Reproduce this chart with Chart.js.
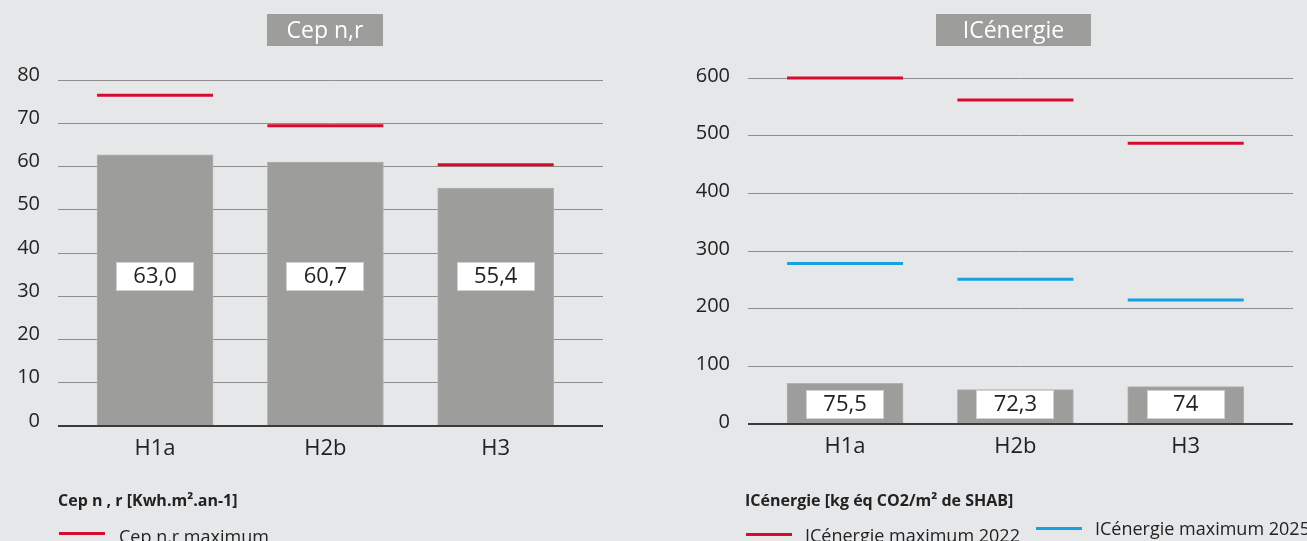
<!DOCTYPE html>
<html><head><meta charset="utf-8">
<script src="https://cdn.jsdelivr.net/npm/chart.js@4/dist/chart.umd.min.js"></script>
<style>
html,body{margin:0;padding:0;background:#e6e7e9;overflow:hidden;}
body{width:1307px;height:541px;position:relative;font-family:"Open Sans",sans-serif;color:#222;}
canvas{position:absolute;top:0;}
#c1{left:0;} #c2{left:690px;}
.ttl{position:absolute;top:14px;height:32px;line-height:31px;background:#9d9d9b;color:#fff;font-size:23px;text-align:center;}
.lt{position:absolute;top:489px;font-weight:bold;font-size:16px;line-height:22px;white-space:nowrap;}
.li{position:absolute;font-size:18px;line-height:22px;white-space:nowrap;}
.sw{position:absolute;height:3px;width:46px;}
</style></head>
<body>
<canvas id="c1" width="690" height="541"></canvas>
<canvas id="c2" width="617" height="541"></canvas>
<div class="ttl" style="left:267px;width:116px;">Cep n,r</div>
<div class="ttl" style="left:936px;width:155px;">ICénergie</div>
<div class="lt" style="left:58px;">Cep n , r [Kwh.m².an-1]</div>
<div class="sw" style="left:59px;top:532px;background:#d60b30;"></div>
<div class="li" style="left:119px;top:525px;">Cep n,r maximum</div>
<div class="lt" style="left:745px;">ICénergie [kg éq CO2/m² de SHAB]</div>
<div class="sw" style="left:746px;top:533px;background:#d60b30;"></div>
<div class="li" style="left:805px;top:524px;">ICénergie maximum 2022</div>
<div class="sw" style="left:1036px;top:527px;background:#18a0e0;"></div>
<div class="li" style="left:1095px;top:517px;">ICénergie maximum 2025</div>
<script>
// ---- data ----
const categories = ['H1a', 'H2b', 'H3'];
const cepValues = [62.7, 61.0, 55.0];        // bar heights as drawn
const cepLabels = ['63,0', '60,7', '55,4'];  // printed values
const cepMax = [76.5, 69.4, 60.4];
const icValues = [70.5, 59.6, 64.8];          // bar heights as drawn
const icLabels = ['75,5', '72,3', '74'];      // printed values
const icMax2022 = [600, 562, 487];
const icMax2025 = [278.5, 251, 215];

const RED = '#d60b30', BLUE = '#18a0e0', BAR = '#9d9d9b';
const FONT = '"Open Sans", sans-serif';

function pts(arr) { return arr.map((v, i) => ({ x: i, y: v })); }

const valueBoxes = {
  id: 'valueBoxes',
  afterDatasetsDraw(chart, args, opts) {
    const ctx = chart.ctx;
    const meta = chart.getDatasetMeta(0);
    meta.data.forEach((bar, i) => {
      const cx = bar.x, cy = chart.chartArea.bottom - opts.offset;
      const w = opts.w, h = opts.h;
      ctx.save();
      ctx.fillStyle = '#ffffff';
      ctx.fillRect(Math.round(cx - w / 2), Math.round(cy - h / 2), w, h);
      ctx.strokeStyle = '#d0d0d0';
      ctx.lineWidth = 1;
      ctx.strokeRect(Math.round(cx - w / 2) + 0.5, Math.round(cy - h / 2) + 0.5, w - 1, h - 1);
      ctx.fillStyle = '#222';
      ctx.font = '22px ' + FONT;
      ctx.textAlign = 'center';
      ctx.textBaseline = 'middle';
      ctx.fillText(opts.labels[i], cx, cy + 1);
      ctx.restore();
    });
  }
};

function makeChart(id, cfg) {
  const datasets = [{
    type: 'bar', data: pts(cfg.values), backgroundColor: BAR,
    borderColor: '#b0b0ae', borderWidth: { left: 1, right: 1, top: 1, bottom: 0 },
    barThickness: 116, order: 2
  }];
  cfg.lines.forEach(l => datasets.push({
    type: 'line', data: pts(l.data), showLine: false, pointStyle: 'line', clip: false,
    pointRadius: 58, pointHoverRadius: 58, pointBorderWidth: 3, pointHoverBorderWidth: 3,
    pointBorderColor: l.color, borderColor: l.color, backgroundColor: l.color, order: 1
  }));
  return new Chart(document.getElementById(id), {
    data: { datasets },
    plugins: [valueBoxes],
    options: {
      responsive: false, animation: false,
      layout: { autoPadding: false, padding: { top: cfg.top, bottom: cfg.bottom, left: 0, right: cfg.right } },
      plugins: {
        legend: { display: false }, tooltip: { enabled: false },
        valueBoxes: { labels: cfg.labels, offset: cfg.boxOffset, w: 78, h: 29 }
      },
      scales: {
        x: {
          type: 'linear', min: -0.57, max: 2.63, offset: false, bounds: 'ticks',
          afterBuildTicks: a => { a.ticks = categories.map((c, i) => ({ value: i })); },
          afterDataLimits: a => { a.min = -0.57; a.max = 2.63; },
          afterFit: s => { s.height = 40; s.paddingLeft = 0; s.paddingRight = 0; },
          grid: { display: false, drawTicks: false, offset: false },
          border: { display: false },
          ticks: {
            autoSkip: false, maxRotation: 0, padding: 10, color: '#222',
            font: { family: FONT, size: 22 },
            callback: v => categories[v]
          }
        },
        y: {
          type: 'linear', min: 0, max: cfg.yMax,
          afterFit: s => { s.width = 58; },
          grid: {
            drawTicks: false,
            color: c => c.tick.value === 0 ? '#3a3a3a' : '#8e8e8e',
            lineWidth: c => c.tick.value === 0 ? 2 : 1
          },
          border: { display: false },
          ticks: {
            stepSize: cfg.yStep, padding: 18, color: '#222', labelOffset: cfg.labelOffset,
            font: { family: FONT, size: 20 }
          }
        }
      }
    }
  });
}

makeChart('c1', {
  values: cepValues, labels: cepLabels,
  lines: [{ data: cepMax, color: RED }],
  yMax: 80, yStep: 10, top: 80, bottom: 75, right: 87, boxOffset: 150, labelOffset: -5
});
makeChart('c2', {
  values: icValues, labels: icLabels,
  lines: [{ data: icMax2022, color: RED }, { data: icMax2025, color: BLUE }],
  yMax: 600, yStep: 100, top: 78, bottom: 77, right: 14, boxOffset: 20, labelOffset: -2
});
</script>
</body></html>
